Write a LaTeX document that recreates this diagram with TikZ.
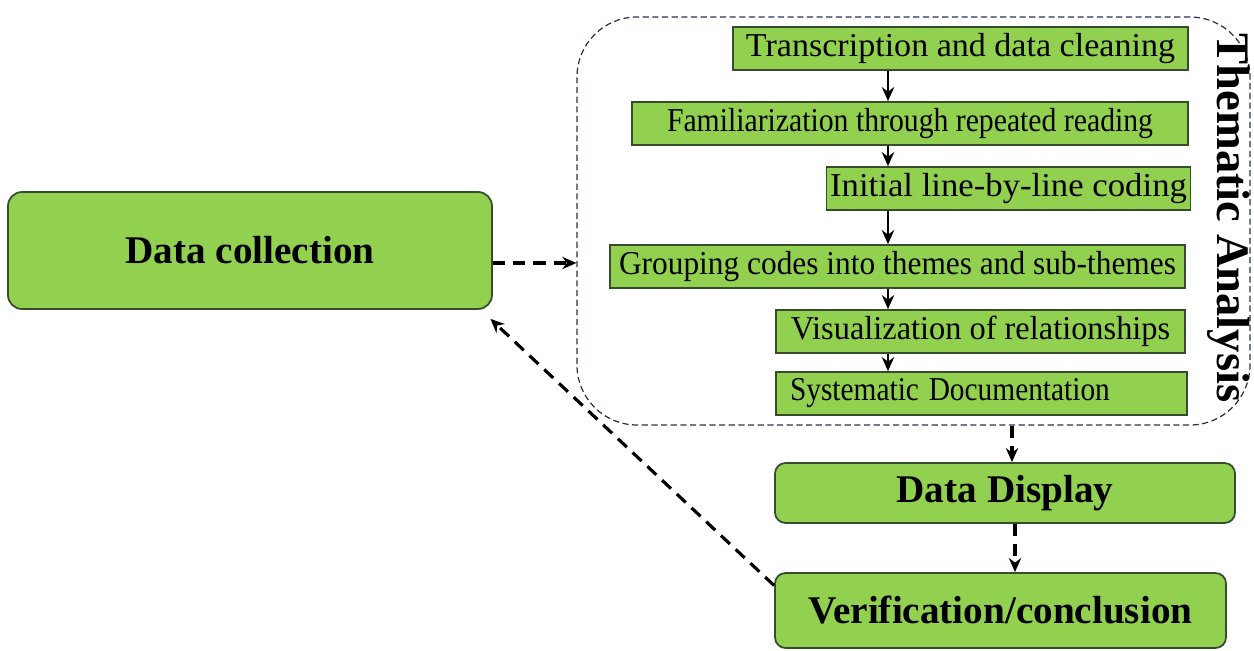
\documentclass[tikz,border=0pt]{standalone}
\usepackage{fontspec}
\setmainfont{Liberation Serif}
\usetikzlibrary{arrows.meta}

\definecolor{boxgreen}{RGB}{146,208,80}
\definecolor{boxedge}{RGB}{55,75,45}
\definecolor{frameedge}{RGB}{40,50,80}

\newcommand{\fsz}[1]{\fontsize{#1}{#1}\selectfont}
\newcommand{\narrow}[2]{\scalebox{#1}[1]{#2}}

\begin{document}
\begin{tikzpicture}[
    mainbox/.style={rectangle, draw=boxedge, line width=1pt, fill=boxgreen, rounded corners=8pt, font=\fsz{22.3}\bfseries},
    stepbox/.style={rectangle, draw=boxedge, line width=0.9pt, fill=boxgreen, minimum height=0.86cm, inner sep=2pt, font=\fsz{19}},
    frame/.style={rectangle, draw=frameedge, line width=0.7pt, dash pattern=on 3.5pt off 2pt, rounded corners=1.2cm},
    dasharrow/.style={line width=1.8pt, dash pattern=on 7pt off 4.5pt, -{Stealth[length=8pt,width=7pt]}},
    steparrow/.style={line width=1.6pt, -{Stealth[length=8pt,width=7pt]}}
]
\useasboundingbox (0,0) rectangle (25.08,13.02);

\node[frame, minimum width=13.46cm, minimum height=8.16cm] (frame) at (18.27, 8.6) {};
\node[font=\fsz{26.5}\bfseries, rotate=-90] (talabel) at (24.58, 8.66) {Thematic Analysis};

\node[mainbox, minimum width=9.68cm, minimum height=2.34cm] (dcoll) at (5.0, 8.01) {Data collection};

\node[stepbox, minimum width=9.1cm] (s1) at (19.21, 12.05) {\narrow{1.02}{Transcription and data cleaning}};
\node[stepbox, minimum width=11.12cm] (s2) at (18.2, 10.55) {\narrow{0.89}{Familiarization through repeated reading}};
\node[stepbox, minimum width=7.18cm] (s3) at (20.17, 9.25) {\narrow{1.04}{Initial line-by-line coding}};
\node[stepbox, minimum width=11.5cm] (s4) at (17.95, 7.69) {\narrow{0.94}{Grouping codes into themes and sub-themes}};
\node[stepbox, minimum width=8.18cm] (s5) at (19.61, 6.39) {\narrow{0.97}{Visualization of relationships}};
\node[stepbox, inner xsep=0.28cm, text width=7.66cm, align=left] (s6) at (19.63, 5.15) {\narrow{0.88}{Systematic Documentation}};

\node[mainbox, minimum width=9.2cm, minimum height=1.2cm, rounded corners=6pt] (ddisp) at (20.1, 3.16) {Data Display};
\node[mainbox, minimum width=9.02cm, minimum height=1.5cm, rounded corners=6pt] (verif) at (20.01, 0.81) {Verification/conclusion};

\coordinate (spine) at (17.76, 0);
\coordinate (downa) at (20.24, 0);
\coordinate (downb) at (20.3, 0);

% Steps
\foreach \a/\b in {s1/s2, s2/s3, s3/s4, s4/s5, s5/s6}
    \draw[steparrow] (\a.south -| spine) -- (\b.north -| spine);

% Loop
\draw[dasharrow] ([yshift=-0.25cm]dcoll.east) -- ([yshift=-0.25cm]dcoll.east -| frame.west);
\draw[dasharrow] (frame.south -| downa) -- (ddisp.north -| downa);
\draw[dasharrow] (ddisp.south -| downb) -- (verif.north -| downb);
\draw[dasharrow] ([yshift=0.5cm]verif.west) -- ([xshift=-0.05cm, yshift=-0.18cm]dcoll.south east);

\end{tikzpicture}
\end{document}
